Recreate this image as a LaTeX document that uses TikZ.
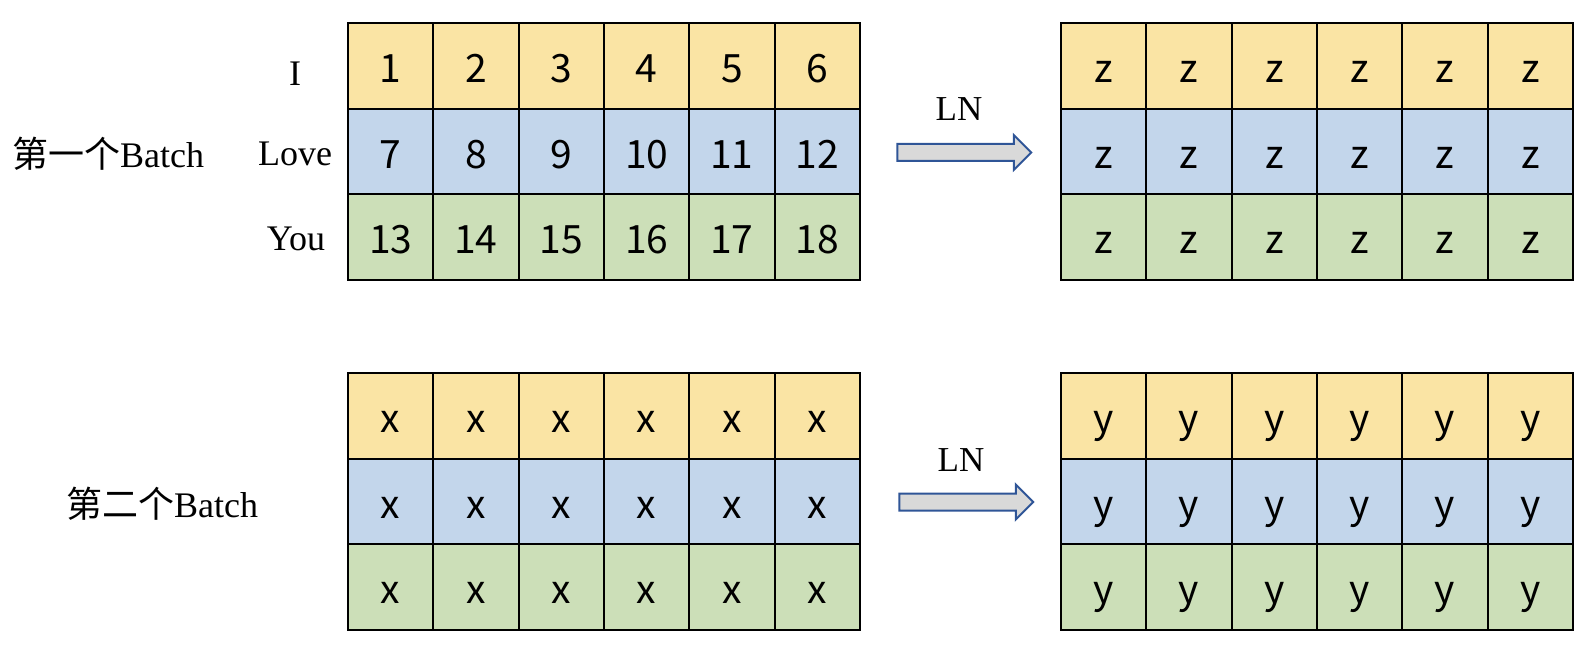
\documentclass[tikz,border=0pt]{standalone}
\usepackage{fontspec}
\setmainfont{Liberation Serif}
\newfontfamily\cjkfont{Noto Sans CJK SC}
\usetikzlibrary{shapes.arrows}
\definecolor{rowY}{HTML}{FAE4A4}
\definecolor{rowB}{HTML}{C3D6EB}
\definecolor{rowG}{HTML}{CCDFB8}
\definecolor{arrFill}{HTML}{D9D9D9}
\definecolor{arrLine}{HTML}{2F5597}
\tikzset{
  cell/.style={draw=black, line width=2pt, minimum width=85.33pt, minimum height=85.67pt,
    inner sep=0pt, text height=33pt, text depth=0pt,
    font=\cjkfont\fontsize{39}{42}\selectfont},
  lbl/.style={inner sep=0pt, font=\fontsize{36}{40}\selectfont},
  blockarrow/.style={single arrow, draw=arrLine, fill=arrFill, line width=2pt,
    inner xsep=0pt, inner ysep=7.5pt, minimum height=134pt,
    single arrow head extend=9pt, single arrow head indent=0pt},
}
\begin{document}
\begin{tikzpicture}[x=1pt,y=-1pt]
\useasboundingbox (0,0) rectangle (1596,668);
\foreach \r/\col in {1/rowY,2/rowB,3/rowG}{
  \foreach \c in {1,...,6}{
    \pgfmathtruncatemacro{\n}{(\r-1)*6+\c}
    \node[cell, fill=\col] (a-\r-\c) at ({348+85.33*(\c-0.5)},{23+85.67*(\r-0.5)}) {\n};
    \node[cell, fill=\col] (b-\r-\c) at ({1061+85.33*(\c-0.5)},{23+85.67*(\r-0.5)}) {z};
    \node[cell, fill=\col] (c-\r-\c) at ({348+85.33*(\c-0.5)},{373+85.67*(\r-0.5)}) {x};
    \node[cell, fill=\col] (d-\r-\c) at ({1061+85.33*(\c-0.5)},{373+85.67*(\r-0.5)}) {y};
  }
}
% row labels
\node[lbl] (wI) at (295,74) {I};
\node[lbl] (wLove) at (295,154) {Love};
\node[lbl] (wYou) at (296,239) {You};
% batch labels
\node[lbl] (batch1) at (108,154) {{\cjkfont 第一个}Batch};
\node[lbl] (batch2) at (162,504) {{\cjkfont 第二个}Batch};
% arrows
\node[blockarrow] (arr1) at (960,152.5) {};
\node[blockarrow] (arr2) at (962,502) {};
\node[lbl, font=\fontsize{35}{40}\selectfont] (ln1) at (959,109) {LN};
\node[lbl, font=\fontsize{35}{40}\selectfont] (ln2) at (961,460) {LN};
\end{tikzpicture}
\end{document}
